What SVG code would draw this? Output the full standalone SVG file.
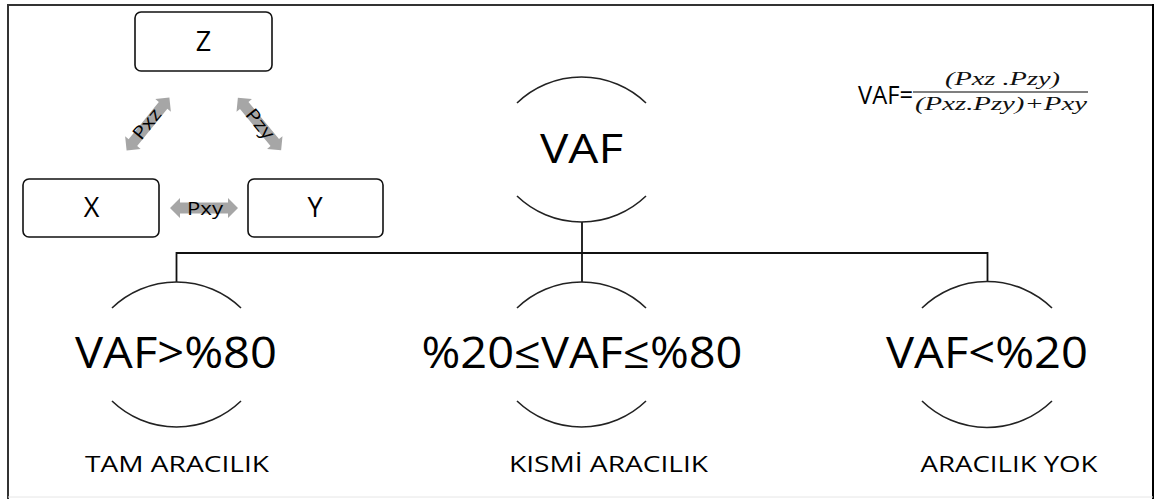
<svg xmlns="http://www.w3.org/2000/svg" width="1155" height="499" viewBox="0 0 1155 499">
<defs>
<style>
.frame{stroke:#333;stroke-width:2;fill:none}
.box{fill:#fff;stroke:#111;stroke-width:1.6}
.arc{fill:none;stroke:#222;stroke-width:1.6}
.conn{fill:none;stroke:#111;stroke-width:1.8}
.darr{fill:#a6a6a6}
.t{font-family:"Open Sans","Liberation Sans",sans-serif;fill:#000;text-anchor:middle}
.m{font-family:"Liberation Serif",serif;font-style:italic;fill:#111;text-anchor:middle}
</style>
<polygon id="dbl" points="-34,0 -24,-10 -24,-5.5 24,-5.5 24,-10 34,0 24,10 24,5.5 -24,5.5 -24,10"/>
</defs>
<rect width="1155" height="499" fill="#fff"/>
<g id="frame">
<line class="frame" x1="8" y1="5" x2="8" y2="499"/>
<line class="frame" x1="7" y1="5" x2="1153" y2="5"/>
<line x1="1153" y1="4" x2="1153" y2="499" stroke="#000" stroke-width="2"/>
<line x1="8" y1="497" x2="1153" y2="497" stroke="#e6e6e6" stroke-width="1"/>
</g>
<g id="connectors">
<line class="conn" x1="582" y1="222" x2="582" y2="282"/>
<line class="conn" x1="176" y1="253" x2="988" y2="253"/>
<line class="conn" x1="176.5" y1="252" x2="176.5" y2="282"/>
<line class="conn" x1="987.5" y1="252" x2="987.5" y2="282"/>
</g>
<g id="node-z">
<rect class="box" x="135" y="12" width="137" height="59" rx="6"/>
<text class="t" x="203.5" y="50.5" font-size="27">Z</text>
</g>
<g id="node-x">
<rect class="box" x="23" y="179" width="136" height="58" rx="6"/>
<text class="t" x="91.5" y="217" font-size="27">X</text>
</g>
<g id="node-y">
<rect class="box" x="248" y="179" width="135" height="58" rx="6"/>
<text class="t" x="315" y="217" font-size="27">Y</text>
</g>
<g id="edge-pxy">
<use href="#dbl" class="darr" transform="translate(204,208)"/>
<text class="t" x="205" y="214.5" font-size="18" textLength="36" lengthAdjust="spacingAndGlyphs">Pxy</text>
</g>
<g id="edge-pxz">
<use href="#dbl" class="darr" transform="translate(148,124) rotate(-51)"/>
<text class="t" transform="translate(147,124) rotate(-51)" y="6" font-size="18" textLength="34" lengthAdjust="spacingAndGlyphs">Pxz</text>
</g>
<g id="edge-pzy">
<use href="#dbl" class="darr" transform="translate(259.5,124) rotate(50.5)"/>
<text class="t" transform="translate(260,124) rotate(50.5)" y="6" font-size="18" textLength="34" lengthAdjust="spacingAndGlyphs">Pzy</text>
</g>
<g id="node-vaf">
<path class="arc" d="M517,103 A93,93 0 0 1 646,103"/>
<path class="arc" d="M517,196 A93,93 0 0 0 646,196"/>
<text class="t" x="581.5" y="162.5" font-size="41" textLength="83" lengthAdjust="spacingAndGlyphs">VAF</text>
</g>
<g id="node-full">
<path class="arc" d="M112,308 A93,93 0 0 1 241,308"/>
<path class="arc" d="M112,401 A93,93 0 0 0 241,401"/>
<text class="t" x="176" y="368" font-size="43" textLength="202" lengthAdjust="spacingAndGlyphs">VAF&gt;%80</text>
<text class="t" x="177" y="472" font-size="22" textLength="184" lengthAdjust="spacingAndGlyphs">TAM ARACILIK</text>
</g>
<g id="node-partial">
<path class="arc" d="M517,308 A93,93 0 0 1 646,308"/>
<path class="arc" d="M517,401 A93,93 0 0 0 646,401"/>
<text class="t" x="582" y="368" font-size="43" textLength="321" lengthAdjust="spacingAndGlyphs">%20≤VAF≤%80</text>
<text class="t" x="608.5" y="472" font-size="22" textLength="199" lengthAdjust="spacingAndGlyphs">KISMİ ARACILIK</text>
</g>
<g id="node-none">
<path class="arc" d="M922,308 A93,93 0 0 1 1052,308"/>
<path class="arc" d="M922,401 A93,93 0 0 0 1052,401"/>
<text class="t" x="987" y="368" font-size="43" textLength="202" lengthAdjust="spacingAndGlyphs">VAF&lt;%20</text>
<text class="t" x="1009" y="472" font-size="22" textLength="177" lengthAdjust="spacingAndGlyphs">ARACILIK YOK</text>
</g>
<g id="formula">
<text class="t" x="885.5" y="103.5" font-size="25" textLength="55" lengthAdjust="spacingAndGlyphs">VAF=</text>
<line x1="913" y1="92" x2="1088" y2="92" stroke="#000" stroke-width="1.2"/>
<text class="m" x="1002.5" y="85" font-size="19" textLength="115" lengthAdjust="spacingAndGlyphs">(Pxz .Pzy)</text>
<text class="m" x="1001" y="110" font-size="19" textLength="172" lengthAdjust="spacingAndGlyphs">(Pxz.Pzy)+Pxy</text>
</g>
</svg>
